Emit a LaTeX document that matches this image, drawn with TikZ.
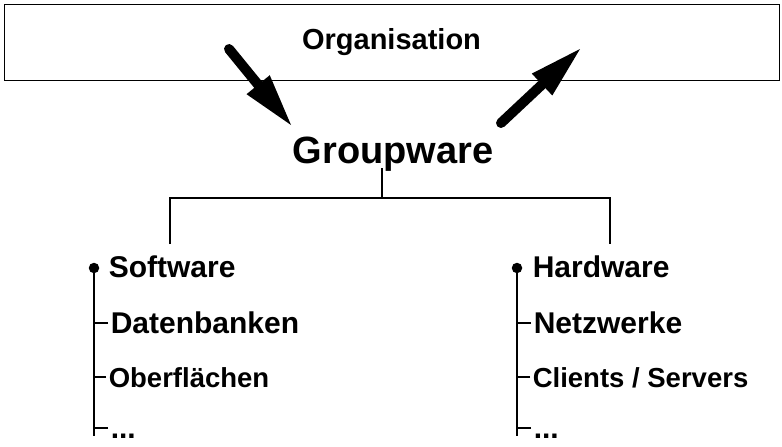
\documentclass[tikz,border=0pt]{standalone}
\usepackage{fontspec}
\setmainfont{Liberation Sans}
\usetikzlibrary{arrows.meta}
\tikzstyle{listitem}=[anchor=base west,inner xsep=2pt,inner ysep=0pt,text height=20pt,text depth=0pt,font=\bfseries\fontsize{30}{36}\selectfont]
\tikzstyle{smallitem}=[listitem,font=\bfseries\fontsize{27.5}{33}\selectfont]
\tikzstyle{bullet}=[circle,fill,minimum size=10.5pt,inner sep=0pt]
\tikzstyle{bigarrow}=[line width=10pt,line cap=round,-{Triangle[length=52pt,width=30pt,line width=0pt]}]

\begin{document}
\begin{tikzpicture}[x=1pt,y=-1pt,line width=1.6pt]
\useasboundingbox (0,0) rectangle (782,447);

\node[draw,line width=1pt,minimum width=775pt,minimum height=76pt,
      font=\bfseries\fontsize{29}{35}\selectfont] (org) at (391.5,42) {Organisation};
\node[anchor=base,inner sep=0pt,font=\bfseries\fontsize{38}{46}\selectfont] (gw) at (393,163) {Groupware};

\coordinate (downtail) at (229,49);
\coordinate (downtip)  at (291,125);
\coordinate (uptail)   at (501,123);
\coordinate (uptip)    at (580,49);
\draw[bigarrow] (downtail) -- (downtip);
\draw[bigarrow] (uptail) -- (uptip);

\coordinate (gwfoot) at (382,168);
\coordinate (fork)   at (382,198);
\coordinate (swdrop) at (170,244);
\coordinate (hwdrop) at (610,244);
\draw (gwfoot) -- (fork);
\draw (swdrop) |- (fork) -| (hwdrop);

\node[bullet] (swdot) at (94,268) {};
\coordinate (swend) at (94,436);
\node[listitem]  (sw)  at (106,277) {Software};
\node[listitem]  (db)  at (108,333) {Datenbanken};
\node[smallitem] (ob)  at (106,387) {Oberflächen};
\node[listitem]  (swx) at (108,438) {...};
\draw (swdot.center) -- (swend);
\draw (db.west) -- (db.west -| swend);
\draw (ob.west) -- (ob.west -| swend);
\draw (swx.west) -- (swx.west -| swend);

\node[bullet] (hwdot) at (517,268) {};
\coordinate (hwend) at (517,436);
\node[listitem]  (hw)  at (530,277) {Hardware};
\node[listitem]  (nw)  at (531,333) {Netzwerke};
\node[smallitem] (cs)  at (530,387) {Clients / Servers};
\node[listitem]  (hwx) at (531,438) {...};
\draw (hwdot.center) -- (hwend);
\draw (nw.west) -- (nw.west -| hwend);
\draw (cs.west) -- (cs.west -| hwend);
\draw (hwx.west) -- (hwx.west -| hwend);

\end{tikzpicture}
\end{document}
